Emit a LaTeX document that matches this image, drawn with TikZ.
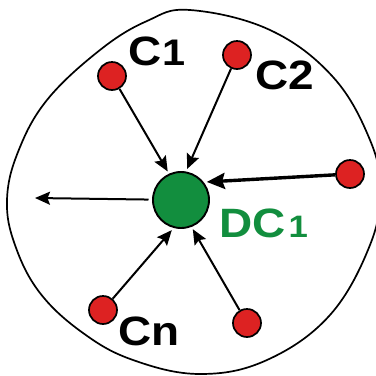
\documentclass[tikz,border=0pt]{standalone}
\usepackage{fontspec}
\setmainfont{Liberation Sans}
\newfontfamily\tagfont[FakeStretch=1.12]{Liberation Sans}
\usetikzlibrary{arrows.meta}
\definecolor{nodered}{RGB}{221,34,34}
\definecolor{dcgreen}{RGB}{18,142,62}
\begin{document}
\begin{tikzpicture}[x=1pt,y=-1pt,
  client/.style={circle,draw=black,line width=1.7pt,fill=nodered,minimum size=28pt,inner sep=0pt},
  hub/.style={circle,draw=black,line width=1.9pt,fill=dcgreen,minimum size=56pt,inner sep=0pt,outer sep=3.5pt},
  flow/.style={line width=2pt,-{Stealth[length=15pt,width=13pt,inset=2.5pt]}},
  heavyflow/.style={line width=3.4pt,-{Stealth[length=18pt,width=16pt,inset=2.5pt]}},
  tag/.style={inner sep=0pt,anchor=base west,font=\tagfont\bfseries\fontsize{41}{43}\selectfont},
  region/.style={line width=1.7pt,black}
]
\useasboundingbox (0,0) rectangle (376,376);
\clip (0,0) rectangle (376,376);

% domain boundary
\draw[region] plot[smooth cycle,tension=0.65] coordinates {
  (190,10) (270,30) (333,77) (370,140) (380,190) (370,245)
  (330,315) (267,360) (200,374) (133,360) (83,333) (40,293)
  (15,245) (7,200) (18,152) (47,100) (100,50) (147,21)};

% data collector and clients
\node[hub] (dc) at (181,200) {};
\node[client] (c1) at (112,76) {};
\node[client] (c2) at (237,55) {};
\node[client] (c3) at (350,174) {};
\node[client] (cn) at (103,310) {};
\node[client] (c5) at (247,323) {};

\coordinate (out) at (35,198);

% labels
\node[tag] (t1) at (128,65) {C\kern1pt{\fontsize{37}{37}\selectfont 1}};
\node[tag] (t2) at (255,89) {C2};
\node[tag] (tn) at (118,345) {Cn};
\node[tag,text=dcgreen] (tdc) at (219,237) {DC\kern3pt{\fontsize{31}{31}\selectfont 1}};

% flows into the collector
\draw[flow] (c1) -- (dc.115);
\draw[flow] (c2) -- (dc.79);
\draw[heavyflow] (c3) -- (dc.35);
\draw[flow] (cn) -- (dc.253);
\draw[flow] (c5) -- (dc.292);

% flow out of the domain
\draw[flow,shorten <=1pt] (dc) -- (out);
\end{tikzpicture}
\end{document}
